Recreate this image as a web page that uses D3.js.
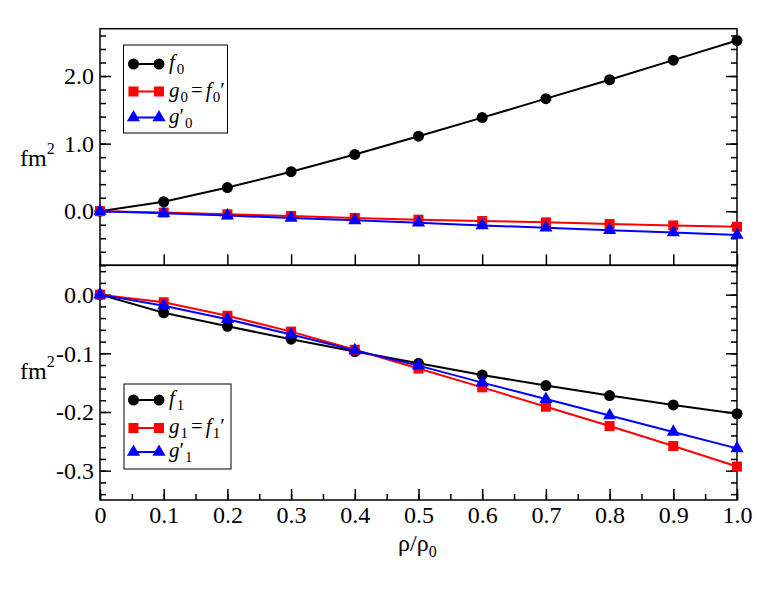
<!DOCTYPE html>
<html>
<head>
<meta charset="utf-8">
<script src="https://cdn.jsdelivr.net/npm/d3@7"></script>
<style>
  body { margin: 0; background: #fff; }
  svg text { font-family: "Liberation Serif", "Times New Roman", Times, serif; }
</style>
</head>
<body>
<div id="chart"></div>
<script>
// density ratio rho/rho0
const rho = [0, 0.1, 0.2, 0.3, 0.4, 0.5, 0.6, 0.7, 0.8, 0.9, 1.0];

// upper panel (fm^2)
const f0 = [0, 0.14, 0.35, 0.585, 0.84, 1.11, 1.385, 1.665, 1.945, 2.235, 2.525];
const g0 = [0, -0.02, -0.045, -0.07, -0.1, -0.125, -0.145, -0.165, -0.19, -0.21, -0.23];
const g0p = [0, -0.03, -0.065, -0.1, -0.135, -0.17, -0.21, -0.245, -0.28, -0.315, -0.35];

// lower panel (fm^2)
const f1 = [0, -0.031, -0.054, -0.076, -0.097, -0.117, -0.137, -0.155, -0.172, -0.188, -0.203];
const g1 = [0, -0.013, -0.036, -0.063, -0.094, -0.126, -0.158, -0.191, -0.224, -0.258, -0.293];
const g1p = [0, -0.019, -0.042, -0.068, -0.095, -0.121, -0.15, -0.178, -0.206, -0.234, -0.262];

// ticks
const xTicks = [0, 0.1, 0.2, 0.3, 0.4, 0.5, 0.6, 0.7, 0.8, 0.9, 1.0];
const xMinor = d3.range(0, 1.0001, 0.05);
const topTicks = [0, 1, 2];
const topMinor = d3.range(-0.8, 2.7001, 0.2);
const botTicks = [0, -0.1, -0.2, -0.3];
const botMinor = d3.range(-0.34, 0.0501, 0.02);

const W = 763, H = 590;
const left = 100, right = 737;
const serif = "'Liberation Serif', 'Times New Roman', Times, serif";

const svg = d3.select("#chart").append("svg")
  .attr("width", W).attr("height", H)
  .style("font-family", serif);

const x = d3.scaleLinear().domain([0, 1]).range([left, right]);
const yTop = d3.scaleLinear().domain([-0.8, 2.7]).range([265.3, 28.7]);
const yBot = d3.scaleLinear().domain([-0.35, 0.05]).range([500, 265.3]);

const fmtX = (d) => (d === 0 ? "0" : d.toFixed(1));
const fmtY = (d) => (Math.abs(d) < 1e-9 ? "0.0" : d.toFixed(1));

function panel(y, majors, minors, xLabels) {
  const g = svg.append("g");
  const [y0, y1] = y.range();

  // left axis
  g.append("g").attr("transform", `translate(${left},0)`)
    .call(d3.axisLeft(y).tickValues(minors).tickSize(-6).tickFormat(""));
  g.append("g").attr("transform", `translate(${left},0)`)
    .call(d3.axisLeft(y).tickValues(majors).tickSize(-11).tickPadding(6).tickFormat(fmtY));
  // right axis (mirror)
  g.append("g").attr("transform", `translate(${right},0)`)
    .call(d3.axisRight(y).tickValues(minors).tickSize(-6).tickFormat(""));
  g.append("g").attr("transform", `translate(${right},0)`)
    .call(d3.axisRight(y).tickValues(majors).tickSize(-11).tickFormat(""));

  // bottom axis
  if (xLabels) {
    g.append("g").attr("transform", `translate(0,${y0})`)
      .call(d3.axisBottom(x).tickValues(xMinor).tickSize(-6).tickFormat(""));
    g.append("g").attr("transform", `translate(0,${y0})`)
      .call(d3.axisBottom(x).tickValues(xTicks).tickSize(-11).tickPadding(6).tickFormat(fmtX));
  } else {
    g.append("g").attr("transform", `translate(0,${y0})`)
      .call(d3.axisBottom(x).tickValues(xTicks).tickSize(-11).tickFormat(""));
  }

  g.selectAll(".domain").remove();
  g.selectAll("g").attr("font-family", null).attr("font-size", null);
  g.selectAll(".tick line").attr("stroke", "#000").attr("stroke-width", 1.5);
  g.selectAll(".tick text").attr("fill", "#000")
    .style("font-family", serif).style("font-size", "24px");

  g.append("rect")
    .attr("x", left).attr("y", y1)
    .attr("width", right - left).attr("height", y0 - y1)
    .attr("fill", "none").attr("stroke", "#000").attr("stroke-width", 1.5);
  return g;
}

panel(yTop, topTicks, topMinor, false);
panel(yBot, botTicks, botMinor, true);

function marker(sel, type, color) {
  if (type === "circle") {
    sel.append("circle").attr("r", 5.5).attr("fill", color);
  } else if (type === "square") {
    sel.append("rect").attr("x", -5).attr("y", -5).attr("width", 10).attr("height", 10).attr("fill", color);
  } else {
    sel.append("path").attr("d", d3.symbol(d3.symbolTriangle, 75)()).attr("fill", color);
  }
}

function series(y, vals, color, type) {
  const pts = rho.map((r, i) => [r, vals[i]]);
  svg.append("path")
    .datum(pts)
    .attr("fill", "none")
    .attr("stroke", color)
    .attr("stroke-width", 2)
    .attr("d", d3.line().x((d) => x(d[0])).y((d) => y(d[1])));
  const g = svg.append("g");
  pts.forEach((d) => {
    const m = g.append("g").attr("transform", `translate(${x(d[0])},${y(d[1])})`);
    marker(m, type, color);
  });
}

series(yTop, f0, "#000", "circle");
series(yTop, g0, "#ff0000", "square");
series(yTop, g0p, "#0000ff", "triangle");

series(yBot, f1, "#000", "circle");
series(yBot, g1, "#ff0000", "square");
series(yBot, g1p, "#0000ff", "triangle");

// legend: parts = [text, style, dx], style "i" italic, "s" subscript, "n" normal
function legend(x0, y0, w, h, items) {
  const g = svg.append("g");
  g.append("rect").attr("x", x0).attr("y", y0).attr("width", w).attr("height", h)
    .attr("fill", "#fff").attr("stroke", "#000").attr("stroke-width", 1);
  items.forEach((it) => {
    const cy = it.y;
    g.append("line").attr("x1", 133.5).attr("x2", 159).attr("y1", cy).attr("y2", cy)
      .attr("stroke", it.color).attr("stroke-width", 2);
    [133.5, 159].forEach((cx) => {
      const m = g.append("g").attr("transform", `translate(${cx},${cy})`);
      marker(m, it.type, it.color);
    });
    const t = g.append("text").attr("x", 169).attr("y", cy + 5).style("font-size", "21px");
    let shifted = false;
    it.parts.forEach(([s, st, dx]) => {
      const sp = t.append("tspan").text(s);
      if (dx) sp.attr("dx", dx);
      if (st === "i") sp.attr("font-style", "italic");
      if (st === "s") {
        sp.style("font-size", "15px").attr("dy", shifted ? 0 : 5);
        shifted = true;
      } else if (shifted) {
        sp.attr("dy", -5);
        shifted = false;
      }
    });
  });
}

legend(123.5, 45, 104, 88, [
  { y: 64, color: "#000", type: "circle", parts: [["f", "i"], ["0", "s", 2]] },
  { y: 91.5, color: "#ff0000", type: "square",
    parts: [["g", "i"], ["0", "s", 1], ["=", "n", 3], ["f", "i", 3], ["0", "s", 1], ["\u2032", "n"]] },
  { y: 117.5, color: "#0000ff", type: "triangle", parts: [["g", "i"], ["\u2032", "n"], ["0", "s", 1]] }
]);

legend(124, 384, 107, 85, [
  { y: 400, color: "#000", type: "circle", parts: [["f", "i"], ["1", "s", 2]] },
  { y: 428, color: "#ff0000", type: "square",
    parts: [["g", "i"], ["1", "s", 1], ["=", "n", 3], ["f", "i", 3], ["1", "s", 1], ["\u2032", "n"]] },
  { y: 452, color: "#0000ff", type: "triangle", parts: [["g", "i"], ["\u2032", "n"], ["1", "s", 1]] }
]);

// axis titles
function fm2(yc) {
  const t = svg.append("text").attr("x", 20).attr("y", yc).style("font-size", "24px");
  t.append("tspan").text("fm");
  t.append("tspan").text("2").style("font-size", "16px").attr("dy", -12);
}
fm2(166);
fm2(379);

const xl = svg.append("text").attr("x", 398).attr("y", 551).style("font-size", "24px");
xl.append("tspan").text("\u03c1/\u03c1");
xl.append("tspan").text("0").style("font-size", "16px").attr("dy", 6);
</script>
</body>
</html>
